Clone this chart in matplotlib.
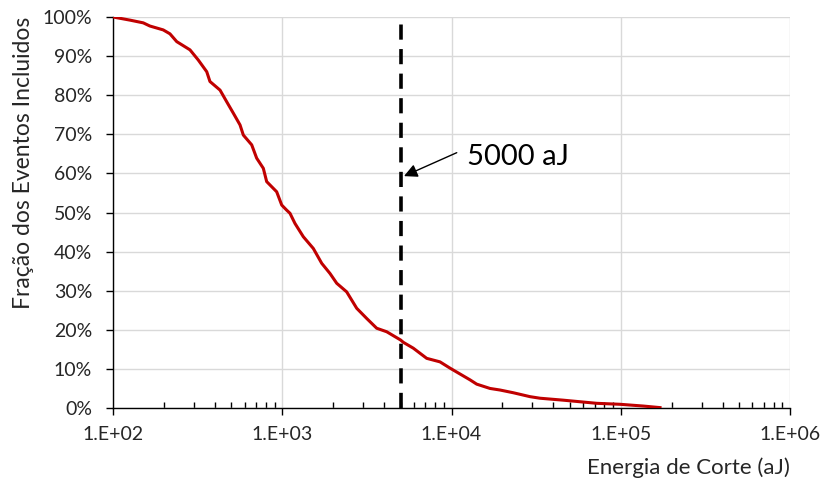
import matplotlib
matplotlib.use("Agg")
import matplotlib.pyplot as plt
from matplotlib.ticker import FixedLocator, LogLocator, NullFormatter, PercentFormatter

plt.rcParams['font.family'] = ['Lato', 'DejaVu Sans']

energy = [100, 126, 151, 165, 198, 217, 238, 285, 319, 358, 374, 429, 470, 514, 563,
          589, 660, 706, 773, 809, 927, 993, 1062, 1111, 1189, 1332, 1526, 1711, 1915,
          2098, 2403, 2754, 3155, 3614, 4142, 5000, 5191, 5947, 7137, 8551, 9797,
          12866, 14090, 16886, 19346, 23188, 29098, 33333, 45772, 72100, 99000,
          135900, 170600]
fraction = [100, 99.2, 98.5, 97.7, 96.7, 95.7, 93.7, 91.6, 89, 86, 83.5, 81.3, 78.3, 75.4, 72.4,
            69.8, 67.3, 63.9, 61.3, 57.9, 55.3, 51.9, 50.6, 49.8, 47.2, 43.8, 40.8, 37, 34.4,
            31.9, 29.7, 25.5, 22.9, 20.4, 19.5, 17.4, 16.8, 15.3, 12.7, 11.8, 10.2,
            7.2, 6.1, 5.0, 4.6, 3.9, 2.9, 2.5, 2.0, 1.2, 0.95,
            0.5, 0.1]
cutoff = 5000
cutoff_label = "5000 aJ"
x_ticks = [1e2, 1e3, 1e4, 1e5, 1e6]
x_tick_labels = ["1.E+02", "1.E+03", "1.E+04", "1.E+05", "1.E+06"]
y_ticks = list(range(0, 101, 10))

fig = plt.figure(figsize=(8.26, 4.88), dpi=100)
ax = fig.add_axes([113/826, 1-408/488, (790-113)/826, (408-17)/488])

ax.plot(energy, fraction, color='#C00000', lw=2.2, zorder=3, solid_joinstyle='round')
ax.axvline(cutoff, color='black', lw=2.6, ls=(0, (4.2, 2.6)), zorder=4)

ax.set_xscale('log')
ax.set_xlim(1e2, 1e6)
ax.set_ylim(0, 100)
ax.xaxis.set_major_locator(FixedLocator(x_ticks))
ax.set_xticklabels(x_tick_labels)
ax.xaxis.set_minor_locator(LogLocator(base=10, subs=range(2, 10)))
ax.xaxis.set_minor_formatter(NullFormatter())
ax.set_yticks(y_ticks)
ax.yaxis.set_major_formatter(PercentFormatter(decimals=0))

ax.grid(True, which='major', color='#D9D9D9', lw=1.0, zorder=0)
ax.set_axisbelow(True)
for s in ['top', 'right']:
    ax.spines[s].set_visible(False)
for s in ['left', 'bottom']:
    ax.spines[s].set_color('black')
    ax.spines[s].set_linewidth(1.0)

ax.tick_params(axis='x', which='major', direction='out', length=5, width=1.0,
               labelsize=14, pad=8, colors='black')
ax.tick_params(axis='x', which='minor', direction='in', length=4, width=1.0)
ax.tick_params(axis='y', which='major', direction='out', length=5, width=1.0,
               labelsize=14, pad=10)
for lab in ax.get_xticklabels() + ax.get_yticklabels():
    lab.set_color('#262626')

ax.set_xlabel("Energia de Corte (aJ)", fontsize=16, loc='right', labelpad=10, color='#262626')
ax.set_ylabel("Fração dos Eventos Incluidos", fontsize=16.5, loc='top', labelpad=6, color='#262626')

ax.annotate('', xy=(5240, 59.3), xytext=(10740, 65.3),
            arrowprops=dict(arrowstyle='-|>', color='black', lw=1.0,
                            mutation_scale=20, shrinkA=0, shrinkB=0))
ax.text(12360, 64.2, cutoff_label, fontsize=21, color='black', va='center', ha='left')

fig.savefig("out.png", dpi=100)
